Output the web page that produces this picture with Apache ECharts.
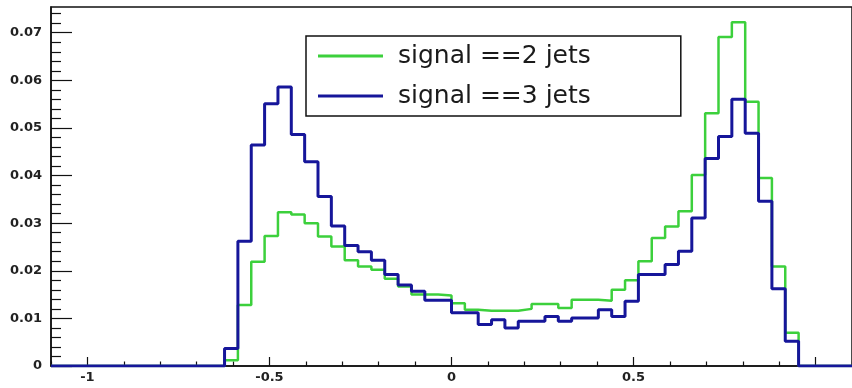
<!DOCTYPE html>
<html>
<head>
<meta charset="utf-8">
<script src="https://cdn.jsdelivr.net/npm/echarts@6/dist/echarts.min.js"></script>
<style>
  html, body { margin: 0; padding: 0; background: #fff; }
  #chart { width: 852px; height: 388px; }
</style>
</head>
<body>
<div id="chart"></div>
<script>
// 1. histogram binning: 60 bins from -1.1 to 1.1
const xMin = -1.1;
const xMax = 1.1;
const binCount = 60;

// 2. bin contents
const signal2Jets = [
  0, 0, 0, 0, 0, 0, 0, 0, 0, 0, 0, 0, 0,
  0.0012, 0.0128, 0.0219, 0.0273, 0.0323, 0.0318, 0.0300, 0.0272, 0.0251, 0.0222,
  0.0209, 0.0202, 0.0183, 0.0167, 0.0150, 0.0150, 0.0148, 0.0132, 0.0118, 0.0116,
  0.0116, 0.0116, 0.0120, 0.0130, 0.0130, 0.0122, 0.0139, 0.0139, 0.0137, 0.0160,
  0.0180, 0.0220, 0.0269, 0.0293, 0.0325, 0.0401, 0.0531, 0.0691, 0.0722, 0.0555,
  0.0395, 0.0209, 0.0070,
  0, 0, 0, 0
];
const signal3Jets = [
  0, 0, 0, 0, 0, 0, 0, 0, 0, 0, 0, 0, 0,
  0.0037, 0.0262, 0.0464, 0.0551, 0.0586, 0.0486, 0.0429, 0.0356, 0.0294, 0.0253,
  0.0240, 0.0222, 0.0192, 0.0170, 0.0157, 0.0138, 0.0138, 0.0112, 0.0112, 0.0087,
  0.0097, 0.0080, 0.0094, 0.0094, 0.0104, 0.0094, 0.0101, 0.0101, 0.0118, 0.0104,
  0.0136, 0.0192, 0.0192, 0.0213, 0.0241, 0.0311, 0.0436, 0.0482, 0.0560, 0.0489,
  0.0346, 0.0162, 0.0052,
  0, 0, 0, 0
];

// 3. ticks and labels
const xMajorTicks = [-1, -0.5, 0, 0.5, 1];
const xLabels = [-1, -0.5, 0, 0.5];
const xMinorTicks = [-1.1, -0.9, -0.8, -0.7, -0.6, -0.4, -0.3, -0.2, -0.1,
  0.1, 0.2, 0.3, 0.4, 0.6, 0.7, 0.8, 0.9, 1.1];
const yMajorTicks = [0, 0.01, 0.02, 0.03, 0.04, 0.05, 0.06, 0.07];
const yMinorTicks = [];
for (let i = 1; i <= 37; i++) {
  if (i % 5 !== 0) yMinorTicks.push(+(i * 0.002).toFixed(3));
}
const yMax = 0.0754;

const names = ['signal ==2 jets', 'signal ==3 jets'];

// bin edges -> step points (left edge of each bin, plus closing edge)
const binWidth = (xMax - xMin) / binCount;
function toSteps(values) {
  const pts = values.map((v, i) => [xMin + i * binWidth, v]);
  pts.push([xMax, values[values.length - 1]]);
  return pts;
}

const labelFont = { fontFamily: 'DejaVu Sans', fontWeight: 'bold', fontSize: 13, color: '#222' };
const tickLine = { color: '#111', width: 1.2 };

const chart = echarts.init(document.getElementById('chart'));

const option = {
  animation: false,
  backgroundColor: '#fff',
  grid: {
    left: 51, right: -1, top: 7, bottom: 22,
    show: true, borderColor: '#111', borderWidth: 1.5, backgroundColor: 'transparent'
  },
  legend: {
    orient: 'vertical',
    left: 306, top: 36,
    data: names,
    icon: 'rect',
    itemWidth: 65,
    itemHeight: 3,
    itemGap: 10,
    padding: [5, 90, 5, 12],
    borderColor: '#111',
    borderWidth: 1.5,
    backgroundColor: '#fff',
    textStyle: {
      fontFamily: 'DejaVu Sans',
      fontSize: 25,
      lineHeight: 30,
      color: '#1a1a1a',
      padding: [0, 0, 0, 10]
    }
  },
  xAxis: [
    {
      type: 'value', min: xMin, max: xMax, position: 'bottom',
      axisLine: { show: true, onZero: false, lineStyle: { color: '#111', width: 1.5 } },
      axisTick: { show: true, inside: true, length: 9, customValues: xMajorTicks, lineStyle: tickLine },
      axisLabel: {
        show: true, margin: 5, customValues: xLabels, ...labelFont,
        formatter: v => String(v)
      },
      splitLine: { show: false }
    },
    {
      type: 'value', min: xMin, max: xMax, position: 'bottom',
      axisLine: { show: false, onZero: false },
      axisTick: { show: true, inside: true, length: 4.5, customValues: xMinorTicks, lineStyle: tickLine },
      axisLabel: { show: false },
      splitLine: { show: false }
    }
  ],
  yAxis: [
    {
      type: 'value', min: 0, max: yMax, position: 'left',
      axisLine: { show: true, onZero: false, lineStyle: { color: '#111', width: 1.5 } },
      axisTick: { show: true, inside: true, length: 21, customValues: yMajorTicks, lineStyle: tickLine },
      axisLabel: {
        show: true, margin: 9, customValues: yMajorTicks, ...labelFont,
        formatter: v => String(+v.toFixed(2))
      },
      splitLine: { show: false }
    },
    {
      type: 'value', min: 0, max: yMax, position: 'left',
      axisLine: { show: false, onZero: false },
      axisTick: { show: true, inside: true, length: 10, customValues: yMinorTicks, lineStyle: tickLine },
      axisLabel: { show: false },
      splitLine: { show: false }
    }
  ],
  series: [
    {
      name: names[0],
      type: 'line',
      step: 'end',
      symbol: 'none',
      data: toSteps(signal2Jets),
      itemStyle: { color: '#3cd03c' },
      lineStyle: { color: '#3cd03c', width: 2.5 }
    },
    {
      name: names[1],
      type: 'line',
      step: 'end',
      symbol: 'none',
      data: toSteps(signal3Jets),
      itemStyle: { color: '#16169a' },
      lineStyle: { color: '#16169a', width: 3 }
    }
  ]
};

chart.setOption(option);
</script>
</body>
</html>
